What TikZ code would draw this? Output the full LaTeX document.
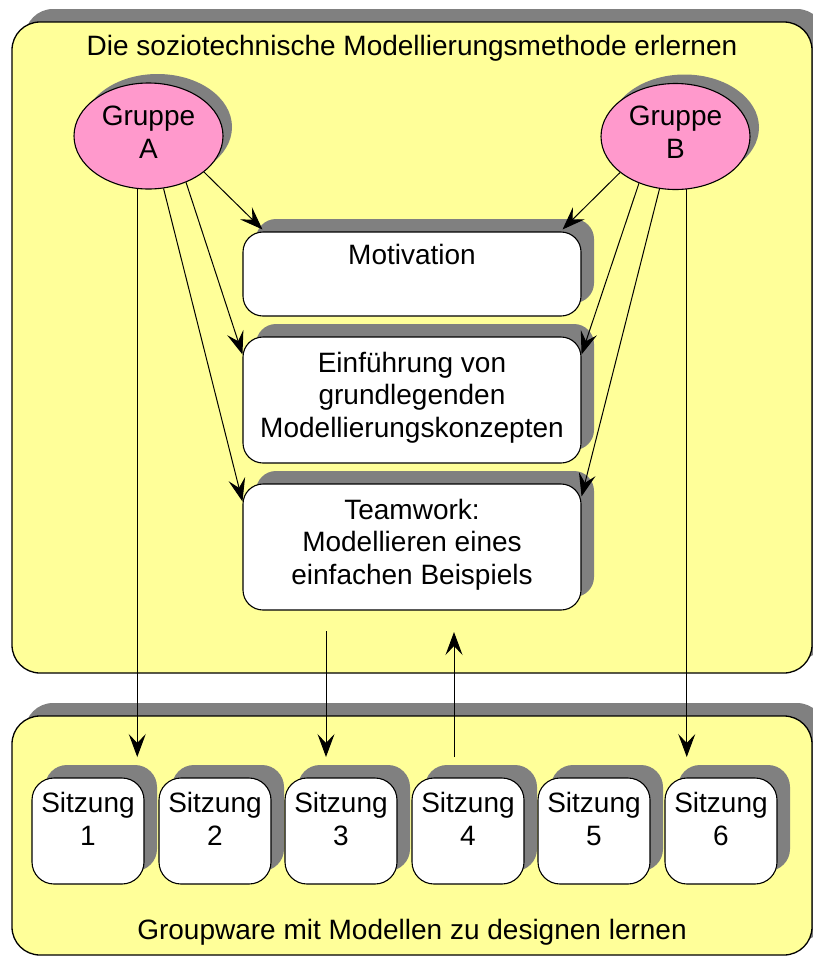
\documentclass[tikz,border=0pt]{standalone}
\usepackage{fontspec}
\setmainfont{Liberation Sans}
\usetikzlibrary{shadows,arrows.meta,calc,shapes.geometric}

\definecolor{paleyellow}{HTML}{FFFF99}
\definecolor{rosepink}{HTML}{FF99CC}
\definecolor{shadegray}{HTML}{808080}

\tikzset{
  bigshadow/.style={drop shadow={shadow xshift=13pt,shadow yshift=13pt,fill=shadegray,opacity=1}},
  container/.style={draw=black, line width=1.3pt, fill=paleyellow, rounded corners=28pt,
    minimum width=800pt, inner sep=0pt, bigshadow},
  grp/.style={ellipse, draw=black, line width=1.1pt, fill=rosepink, minimum width=149pt,
    minimum height=106pt, inner sep=0pt,
    drop shadow={shadow xshift=9pt,shadow yshift=9pt,fill=shadegray,opacity=1}},
  stagebox/.style={draw=black, line width=1.1pt, fill=white, rounded corners=20pt,
    minimum width=338pt, inner sep=0pt, bigshadow},
  session/.style={draw=black, line width=1.1pt, fill=white, rounded corners=22pt,
    minimum width=112pt, minimum height=106pt, inner sep=0pt, bigshadow},
  % multi-line labels are placed by the baseline of their last line
  txt/.style={font=\fontsize{28}{32.5}\selectfont, align=center, inner sep=0pt, anchor=base},
  arr/.style={line width=1pt, -{Stealth[length=23pt,width=17pt,inset=9pt]}},
}

\begin{document}
\begin{tikzpicture}[x=1pt,y=1pt]
\useasboundingbox (0,0) rectangle (813,-956);

% the two large areas
\node[container, minimum height=651pt] (top) at (412,-347.5) {};
\node[container, minimum height=239pt] (bottom) at (412,-835.5) {};
\node[txt] (toptitle) at (412,-55) {Die soziotechnische Modellierungsmethode erlernen};
\node[txt] (bottomtitle) at (412,-939) {Groupware mit Modellen zu designen lernen};

% groups
\node[grp] (ga) at (148.5,-136) {};
\node[grp] (gb) at (675.5,-136.5) {};
\node[txt] (galabel) at (148.5,-158) {Gruppe\\A};
\node[txt] (gblabel) at (675.5,-158) {Gruppe\\B};

% stages
\node[stagebox, minimum height=84pt] (mot) at (412,-274) {};
\node[stagebox, minimum height=126pt] (ein) at (412,-400) {};
\node[stagebox, minimum height=126pt] (tw) at (412,-547) {};
\node[txt] (motlabel) at (412,-264) {Motivation};
\node[txt] (einlabel) at (412,-437) {Einführung von\\grundlegenden\\Modellierungskonzepten};
\node[txt] (twlabel) at (412,-584) {Teamwork:\\Modellieren eines\\einfachen Beispiels};

% sessions
\foreach \i/\x in {1/88,2/215,3/341,4/468,5/594,6/721}{
  \node[session] (s\i) at (\x,-831) {};
  \node[txt] (s\i label) at (\x,-845) {Sitzung\\\i};
}

% arrow end points
\coordinate (drop) at (0,-757);
\coordinate (twout) at (326,-631);
\coordinate (s4out) at (454,-757);
\coordinate (twin) at (454,-632);

% connectors of group A
\draw[arr] (ga.-33) -- ($(mot.north west)+(20,2)$);
\draw[arr] (ga.-51) -- ($(ein.north west)+(0,-18)$);
\draw[arr] (ga.-74) -- ($(tw.north west)+(0,-18)$);
\draw[arr] (ga.-102) -- (ga.-102 |- drop);

% connectors of group B
\draw[arr] (gb.-147.6) -- ($(mot.north east)+(-19,2)$);
\draw[arr] (gb.-128.3) -- ($(ein.north east)+(0,-18)$);
\draw[arr] (gb.-107.8) -- ($(tw.north east)+(0,-13)$);
\draw[arr] (gb.-78.6) -- (gb.-78.6 |- drop);

% exchange between the two areas
\draw[arr] (twout) -- (twout |- drop);
\draw[arr] (s4out) -- (twin);
\end{tikzpicture}
\end{document}
